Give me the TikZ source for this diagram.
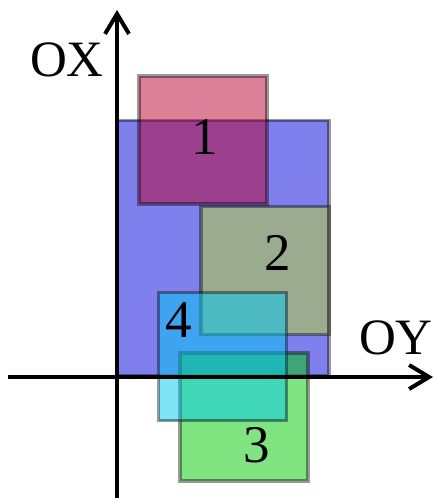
\documentclass[tikz,border=0pt]{standalone}
\usepackage{fontspec}
\setmainfont{Liberation Serif}
\usetikzlibrary{arrows.meta}
\definecolor{cblue}{RGB}{0,0,220}
\definecolor{cred}{RGB}{185,0,50}
\definecolor{colive}{RGB}{182,216,52}
\definecolor{cgreen}{RGB}{1,201,1}
\definecolor{ccyan}{RGB}{1,201,241}
\tikzset{
  box/.style={draw=black, draw opacity=0.4, line width=3.5pt, fill opacity=0.5, inner sep=0pt, minimum width=128pt, minimum height=128pt},
  lbl/.style={font=\fontsize{53}{53}\selectfont, inner sep=0pt},
  axis/.style={line width=4.5pt, -{Straight Barb[length=20pt,width=24pt,line width=4pt]}}
}
\begin{document}
\begin{tikzpicture}[x=1pt,y=-1pt]
\useasboundingbox (0,0) rectangle (435,498);
\node[box, fill=cblue, minimum width=212pt, minimum height=255.5pt] (rb) at (223,248) {};
\node[box, fill=cred] (r1) at (203,140) {};
\node[box, fill=colive] (r2) at (265,270.5) {};
\node[box, fill=cgreen] (r3) at (243.75,417) {};
\node[box, fill=ccyan] (r4) at (222.5,356.5) {};
\node[lbl] (t1) at (205,137) {1};
\node[lbl] (t2) at (278,253) {2};
\node[lbl] (t3) at (257,445) {3};
\node[lbl] (t4) at (179,320) {4};
\coordinate (xb) at (117,498);
\coordinate (xt) at (117,10);
\coordinate (yl) at (8,377);
\coordinate (yr) at (433,377);
\draw[axis] (xb) -- (xt);
\draw[axis] (yl) -- (yr);
\node[lbl, font=\fontsize{51}{51}\selectfont] (ox) at (67,60) {OX};
\node[lbl, font=\fontsize{51}{51}\selectfont] (oy) at (396,338) {OY};
\end{tikzpicture}
\end{document}
